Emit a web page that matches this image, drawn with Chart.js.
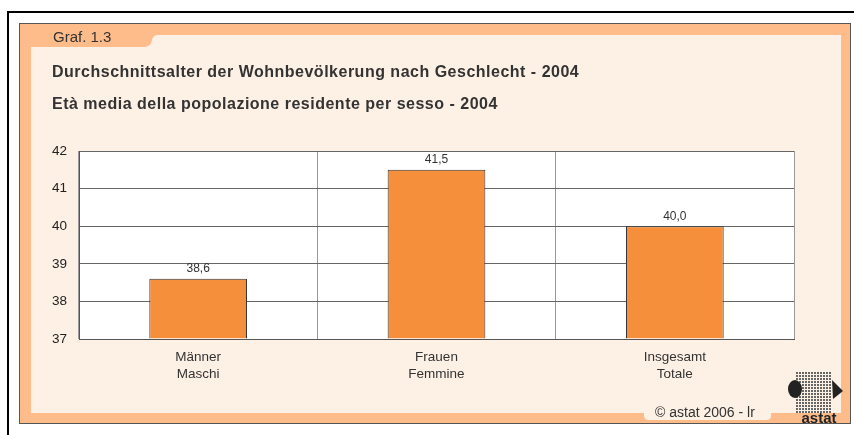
<!DOCTYPE html>
<html>
<head>
<meta charset="utf-8">
<script src="https://cdn.jsdelivr.net/npm/chart.js@4"></script>
<style>
  html, body { margin: 0; padding: 0; background: #fff; }
  canvas { display: block; }
</style>
</head>
<body>
<canvas id="chart" width="854" height="435"></canvas>
<script>
// data
const categories = [['Männer', 'Maschi'], ['Frauen', 'Femmine'], ['Insgesamt', 'Totale']];
const meanAge = [38.6, 41.5, 40.0];
const yTicks = [37, 38, 39, 40, 41, 42];

const FONT = '"Liberation Sans", Arial, Helvetica, sans-serif';

// panel, tab, titles, copyright and logo behind the chart
const framePlugin = {
  id: 'frame',
  beforeDraw(chart) {
    const ctx = chart.ctx;
    ctx.save();
    ctx.fillStyle = '#fff';
    ctx.fillRect(0, 0, 854, 435);

    // black frame lines
    ctx.fillStyle = '#000';
    ctx.fillRect(8, 11, 846, 2);
    ctx.fillRect(7, 11, 2, 424);

    // orange panel
    ctx.fillStyle = '#FDBC8A';
    ctx.fillRect(19, 23, 832, 401);
    ctx.strokeStyle = '#555';
    ctx.lineWidth = 1;
    ctx.strokeRect(19.5, 23.5, 831, 400);

    // cream area with tab notch
    ctx.fillStyle = '#FDF0E4';
    ctx.beginPath();
    ctx.moveTo(31, 47);
    ctx.lineTo(144, 47);
    ctx.quadraticCurveTo(151, 47, 152, 40);
    ctx.quadraticCurveTo(153, 35, 158, 35);
    ctx.lineTo(841, 35);
    ctx.lineTo(841, 413);
    ctx.lineTo(31, 413);
    ctx.closePath();
    ctx.fill();

    // copyright tab
    ctx.beginPath();
    ctx.moveTo(644, 412);
    ctx.lineTo(771, 412);
    ctx.lineTo(771, 416);
    ctx.quadraticCurveTo(771, 420, 766, 420);
    ctx.lineTo(649, 420);
    ctx.quadraticCurveTo(644, 420, 644, 416);
    ctx.closePath();
    ctx.fill();

    ctx.fillStyle = '#333';
    ctx.textBaseline = 'alphabetic';
    ctx.textAlign = 'left';
    ctx.font = '15px ' + FONT;
    ctx.fillText('Graf. 1.3', 53, 42);
    ctx.font = 'bold 16px ' + FONT;
    ctx.letterSpacing = '0.5px';
    ctx.fillText('Durchschnittsalter der Wohnbevölkerung nach Geschlecht - 2004', 52, 77);
    ctx.fillText('Età media della popolazione residente per sesso - 2004', 52, 109);
    ctx.letterSpacing = '0px';
    ctx.font = '14px ' + FONT;
    ctx.fillText('© astat 2006 - lr', 655, 417);

    // logo
    ctx.fillStyle = '#666';
    for (let gx = 796; gx < 831; gx += 3) {
      for (let gy = 372; gy < 412; gy += 3) {
        ctx.fillRect(gx, gy, 2, 2);
      }
    }
    ctx.fillStyle = '#222';
    ctx.beginPath();
    ctx.ellipse(795, 389, 7, 9, 0, 0, Math.PI * 2);
    ctx.fill();
    ctx.beginPath();
    ctx.moveTo(832, 380);
    ctx.lineTo(843, 391);
    ctx.lineTo(833, 399);
    ctx.closePath();
    ctx.fill();
    ctx.font = 'bold 15px ' + FONT;
    ctx.textAlign = 'center';
    ctx.fillText('astat', 819, 423);

    // plot background
    const a = chart.chartArea;
    ctx.fillStyle = '#fff';
    ctx.fillRect(a.left, a.top, a.right - a.left, a.bottom - a.top);
    ctx.restore();
  },
  afterDatasetsDraw(chart) {
    const ctx = chart.ctx;
    const meta = chart.getDatasetMeta(0);
    ctx.save();
    ctx.fillStyle = '#333';
    ctx.font = '12px ' + FONT;
    ctx.textAlign = 'center';
    ctx.textBaseline = 'bottom';
    meta.data.forEach((bar, i) => {
      ctx.fillText(meanAge[i].toFixed(1).replace('.', ','), bar.x, bar.y - 4);
    });
    ctx.restore();
  }
};

new Chart(document.getElementById('chart'), {
  type: 'bar',
  data: {
    labels: categories,
    datasets: [{
      data: meanAge,
      base: yTicks[0],
      backgroundColor: '#F58F3C',
      borderColor: '#333',
      borderWidth: 1,
      barPercentage: 0.41,
      categoryPercentage: 1
    }]
  },
  options: {
    responsive: false,
    animation: false,
    layout: { padding: { top: 151, right: 60, left: 0, bottom: 0 } },
    plugins: { legend: { display: false }, tooltip: { enabled: false } },
    scales: {
      x: {
        grid: { color: '#999', drawTicks: false, offset: true },
        border: { color: '#555' },
        ticks: { color: '#333', font: { family: FONT, size: 13.5, lineHeight: 1.25 }, padding: 10 },
        afterFit(scale) { scale.height = 96; }
      },
      y: {
        min: yTicks[0],
        max: yTicks[yTicks.length - 1],
        grid: { color: '#666', drawTicks: false },
        border: { color: '#555' },
        afterBuildTicks(scale) { scale.ticks = yTicks.map(v => ({ value: v })); },
        ticks: { color: '#222', font: { family: FONT, size: 13.5 }, padding: 12 },
        afterFit(scale) { scale.width = 79; }
      }
    }
  },
  plugins: [framePlugin]
});
</script>
</body>
</html>
